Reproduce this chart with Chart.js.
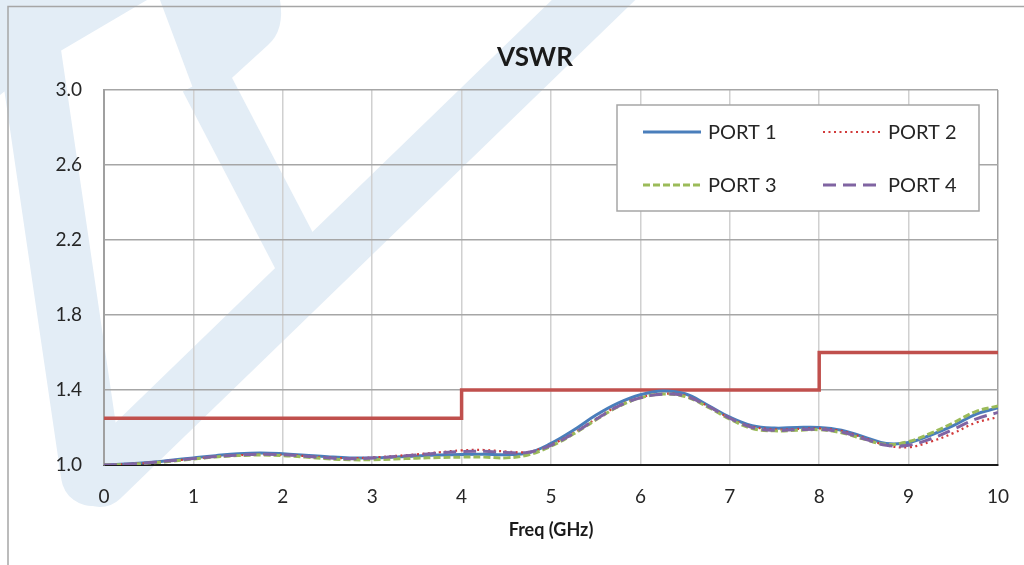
<!DOCTYPE html>
<html>
<head>
<meta charset="utf-8">
<title>VSWR</title>
<script src="https://cdn.jsdelivr.net/npm/chart.js@4.4.1/dist/chart.umd.min.js"></script>
<style>
  html, body { margin: 0; padding: 0; background: #fff; }
  #wrap { width: 1024px; height: 565px; position: relative; }
</style>
</head>
<body>
<div id="wrap"><canvas id="vswrChart" width="1024" height="565"></canvas></div>
<script>
// frequency points (GHz)
const freq = [0, 0.25, 0.5, 0.75, 1, 1.25, 1.5, 1.75, 2, 2.25, 2.5, 2.75, 3, 3.25, 3.5, 3.75, 4, 4.25, 4.5, 4.75,
              5, 5.25, 5.5, 5.75, 6, 6.25, 6.5, 6.75, 7, 7.25, 7.5, 7.75, 8, 8.25, 8.5, 8.75, 9, 9.25, 9.5, 9.75, 10];

const port1 = [1.000, 1.005, 1.013, 1.025, 1.038, 1.050, 1.060, 1.064, 1.060, 1.052, 1.044, 1.038, 1.038, 1.042, 1.048, 1.053, 1.056, 1.057, 1.055, 1.065,
               1.115, 1.185, 1.265, 1.330, 1.375, 1.395, 1.380, 1.320, 1.255, 1.210, 1.197, 1.200, 1.200, 1.185, 1.150, 1.115, 1.120, 1.160, 1.210, 1.270, 1.305];
const port2 = [1.000, 1.004, 1.012, 1.022, 1.033, 1.044, 1.052, 1.056, 1.054, 1.048, 1.040, 1.036, 1.040, 1.048, 1.057, 1.068, 1.078, 1.080, 1.072, 1.070,
               1.108, 1.170, 1.245, 1.315, 1.360, 1.380, 1.370, 1.315, 1.250, 1.205, 1.190, 1.192, 1.195, 1.182, 1.145, 1.105, 1.095, 1.125, 1.170, 1.225, 1.255];
const port3 = [1.000, 1.003, 1.010, 1.020, 1.032, 1.043, 1.050, 1.053, 1.050, 1.042, 1.033, 1.028, 1.028, 1.032, 1.036, 1.040, 1.042, 1.042, 1.038, 1.055,
               1.100, 1.165, 1.240, 1.310, 1.358, 1.378, 1.365, 1.310, 1.245, 1.195, 1.182, 1.185, 1.188, 1.172, 1.138, 1.110, 1.125, 1.170, 1.225, 1.285, 1.315];
const port4 = [1.000, 1.004, 1.012, 1.023, 1.034, 1.045, 1.053, 1.057, 1.055, 1.047, 1.038, 1.033, 1.037, 1.045, 1.054, 1.064, 1.072, 1.073, 1.067, 1.068,
               1.105, 1.168, 1.243, 1.313, 1.358, 1.378, 1.368, 1.315, 1.250, 1.200, 1.185, 1.188, 1.190, 1.176, 1.140, 1.105, 1.105, 1.140, 1.190, 1.245, 1.280];

// limit mask: step edges and levels
const limitX = [0, 4, 8, 10];
const limitY = [1.25, 1.4, 1.6, 1.6];

const portNames = ['PORT 1', 'PORT 2', 'PORT 3', 'PORT 4'];
const yTicks = [1.0, 1.4, 1.8, 2.2, 2.6, 3.0];
const chartTitle = 'VSWR';

const FONT = 'Lato, "Open Sans", sans-serif';

function pts(ys) {
    return freq.map((f, i) => ({ x: f, y: ys[i] }));
}

// white background, faint logo watermark, outer frame, title
const backdrop = {
    id: 'backdrop',
    beforeDraw(chart) {
        const ctx = chart.ctx;
        ctx.save();
        ctx.fillStyle = '#fff';
        ctx.fillRect(0, 0, chart.width, chart.height);

        const wm = 'rgb(227, 237, 246)';
        ctx.strokeStyle = wm;
        ctx.fillStyle = wm;
        ctx.lineCap = 'round';
        ctx.lineJoin = 'round';
        // left leg
        ctx.lineWidth = 62;
        ctx.beginPath();
        ctx.moveTo(18, -30);
        ctx.lineTo(92, 475);
        ctx.stroke();
        // long diagonal
        ctx.lineWidth = 58;
        ctx.beginPath();
        ctx.moveTo(640, -45);
        ctx.lineTo(100, 478);
        ctx.stroke();
        // top corner and bowl
        ctx.beginPath();
        ctx.moveTo(0, 0);
        ctx.lineTo(147, 0);
        ctx.lineTo(40, 63);
        ctx.lineTo(0, 95);
        ctx.closePath();
        ctx.fill();
        ctx.beginPath();
        ctx.moveTo(160, 0);
        ctx.lineTo(280, 0);
        ctx.quadraticCurveTo(285, 30, 268, 45);
        ctx.lineTo(200, 107);
        ctx.closePath();
        ctx.fill();
        ctx.lineCap = 'butt';
        ctx.lineWidth = 50;
        ctx.beginPath();
        ctx.moveTo(205, 80);
        ctx.lineTo(300, 262);
        ctx.stroke();
        ctx.restore();

        ctx.save();
        ctx.strokeStyle = '#a6a6a6';
        ctx.lineWidth = 1.5;
        ctx.beginPath();
        ctx.moveTo(8, 566);
        ctx.lineTo(8, 6.5);
        ctx.lineTo(1024, 6.5);
        ctx.stroke();

        ctx.fillStyle = '#1a1a1a';
        ctx.font = 'bold 26px ' + FONT;
        ctx.textAlign = 'center';
        ctx.textBaseline = 'middle';
        ctx.fillText(chartTitle, 535, 58);
        ctx.restore();
    }
};

// two-by-two legend box like the spreadsheet one
const boxLegend = {
    id: 'boxLegend',
    afterDraw(chart) {
        const ctx = chart.ctx;
        const a = chart.chartArea;
        const x0 = a.left + 513, y0 = a.top + 15;
        const w = 362, h = 106;
        ctx.save();
        ctx.fillStyle = '#fff';
        ctx.fillRect(x0, y0, w, h);
        ctx.strokeStyle = '#a6a6a6';
        ctx.lineWidth = 1.5;
        ctx.strokeRect(x0, y0, w, h);

        const cols = [x0 + 26, x0 + 206];
        const rows = [y0 + 27, y0 + 80];
        ctx.font = '20px ' + FONT;
        ctx.textBaseline = 'middle';
        ctx.fillStyle = '#262626';
        for (let i = 0; i < 4; i++) {
            const ds = chart.data.datasets[i];
            const cx = cols[i % 2], cy = rows[Math.floor(i / 2)];
            ctx.strokeStyle = ds.borderColor;
            ctx.lineWidth = ds.borderWidth;
            ctx.setLineDash(ds.borderDash || []);
            ctx.lineCap = 'butt';
            ctx.beginPath();
            ctx.moveTo(cx, cy);
            ctx.lineTo(cx + 58, cy);
            ctx.stroke();
            ctx.setLineDash([]);
            ctx.fillText(ds.label, cx + 65, cy + 1);
        }
        ctx.restore();
    }
};

new Chart(document.getElementById('vswrChart'), {
    type: 'line',
    plugins: [backdrop, boxLegend],
    data: {
        datasets: [
            { label: portNames[0], data: pts(port1), borderColor: '#4a7ebb', borderWidth: 3, order: 4 },
            { label: portNames[1], data: pts(port2), borderColor: '#d23a3a', borderWidth: 2.2, borderDash: [2, 3.5], order: 3 },
            { label: portNames[2], data: pts(port3), borderColor: '#9bbb59', borderWidth: 3, borderDash: [7, 3], order: 2 },
            { label: portNames[3], data: pts(port4), borderColor: '#8064a2', borderWidth: 3, borderDash: [13, 7], order: 1 },
            {
                label: 'limit',
                data: limitX.map((x, i) => ({ x: x, y: limitY[i] })),
                borderColor: '#c0504d', borderWidth: 3.5, stepped: true, tension: 0, order: 5
            }
        ]
    },
    options: {
        responsive: false,
        animation: false,
        events: [],
        layout: { padding: { left: 40, right: 26, top: 90, bottom: 0 } },
        elements: {
            point: { radius: 0 },
            line: { tension: 0.4, fill: false }
        },
        plugins: {
            legend: { display: false },
            tooltip: { enabled: false },
            title: { display: false }
        },
        scales: {
            x: {
                type: 'linear',
                min: 0, max: 10,
                afterFit(s) {
                    s.height = 100;
                    s.paddingLeft = 0;
                    s.paddingRight = 0;
                },
                ticks: {
                    stepSize: 1,
                    padding: 20,
                    color: '#262626',
                    font: { family: FONT, size: 19 }
                },
                grid: {
                    drawTicks: false,
                    color: ctx => ctx.tick && ctx.tick.value === 10 ? '#a0a0a0' : '#d0d0d0',
                    lineWidth: 1.5
                },
                border: { color: '#1a1a1a', width: 2 },
                title: {
                    display: true,
                    text: 'Freq (GHz)',
                    color: '#1a1a1a',
                    font: { family: FONT, size: 18, weight: 'bold', lineHeight: 1.2 },
                    padding: { top: 11, bottom: 24 }
                }
            },
            y: {
                type: 'linear',
                min: 1.0, max: 3.0,
                afterFit(s) {
                    s.width = 64;
                    s.paddingTop = 0;
                    s.paddingBottom = 0;
                },
                afterBuildTicks(s) { s.ticks = yTicks.map(v => ({ value: v })); },
                ticks: {
                    padding: 22,
                    color: '#262626',
                    font: { family: FONT, size: 19 },
                    callback: v => Number(v).toFixed(1)
                },
                grid: {
                    drawTicks: false,
                    color: '#a6a6a6',
                    lineWidth: 1.5
                },
                border: { color: '#a0a0a0', width: 2 }
            }
        }
    }
});
</script>
</body>
</html>
